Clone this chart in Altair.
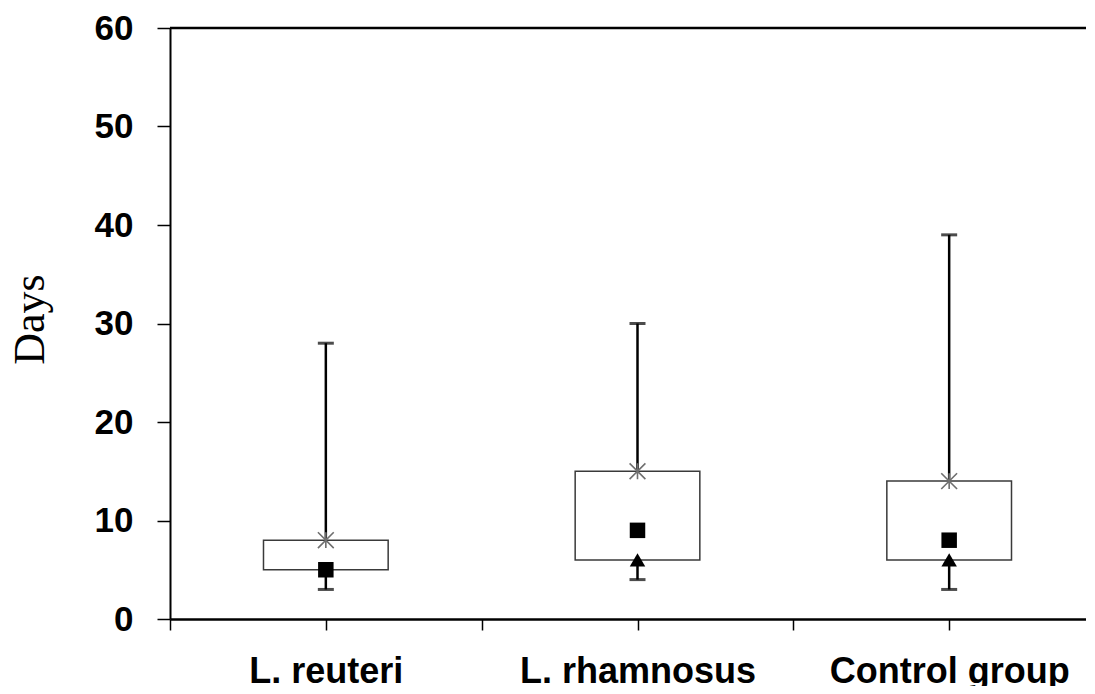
import altair as alt
import pandas as pd

groups = ["L. reuteri", "L. rhamnosus", "Control group"]
whisker_min = [3, 4, 3]
box_low = [5, 6, 6]
box_high = [8, 15, 14]
whisker_max = [28, 30, 39]
star_vals = [8, 15, 14]
square_vals = [5, 9, 8]
triangle_vals = [None, 6, 6]
y_ticks = [0, 10, 20, 30, 40, 50, 60]

pos = [i + 0.5 for i in range(len(groups))]
half_box = 0.2

df = pd.DataFrame({
    "group": groups,
    "pos": pos,
    "left": [p - half_box for p in pos],
    "right": [p + half_box for p in pos],
    "wmin": whisker_min,
    "q1": box_low,
    "q3": box_high,
    "wmax": whisker_max,
    "star": star_vals,
    "square": square_vals,
    "triangle": triangle_vals,
})

PLOT_W = 916
FULL_W = 935  # the reference plot runs past the right edge of the picture
x_max = len(groups) * PLOT_W / FULL_W

x_vals = sorted(v for v in set([float(i) for i in range(len(groups) + 1)] + pos) if v <= x_max)
label_expr = "".join(
    f"datum.value == {p} ? '{g}' : " for p, g in zip(pos, groups)
) + "''"

xscale = alt.Scale(domain=[0, x_max], nice=False, zero=False)
yscale = alt.Scale(domain=[0, 60], nice=False)

x_axis = alt.Axis(
    values=x_vals, labelExpr=label_expr, title=None, grid=False,
    labelFont="Liberation Sans", labelFontWeight="bold", labelFontSize=36,
    labelColor="black", labelBaseline="alphabetic", labelPadding=52,
    labelOverlap=False, labelFlush=False, labelLimit=0, tickSize=11,
    tickColor="black", tickWidth=1.5, domainColor="black", domainWidth=2.5,
)
y_axis = alt.Axis(
    values=y_ticks, title="Days", grid=False,
    labelFont="Liberation Sans", labelFontWeight="bold", labelFontSize=35,
    labelColor="black", labelPadding=24, tickSize=13, tickColor="black",
    tickWidth=1.5, domainColor="black", domainWidth=2,
    titleFont="Liberation Serif", titleFontWeight="normal", titleFontSize=44,
    titleColor="black", titleAngle=-90, titleBaseline="alphabetic",
    titleAlign="center", titleX=-127, titleY=291,
)

base = alt.Chart(df)

x_enc = alt.X("pos:Q", scale=xscale, axis=x_axis)

upper = base.mark_rule(color="black", strokeWidth=2.5).encode(
    x=x_enc, y=alt.Y("q3:Q", scale=yscale, axis=y_axis), y2="wmax:Q"
)
lower = base.mark_rule(color="black", strokeWidth=2.5).encode(
    x="pos:Q", y="wmin:Q", y2="q1:Q"
)
top_border = alt.Chart(pd.DataFrame({"top": [y_ticks[-1]]})).mark_rule(
    color="black", strokeWidth=2.5
).encode(x=alt.value(0), x2=alt.value(PLOT_W + 20), y="top:Q")
box = base.mark_rect(fill="white", stroke="#3a3a3a", strokeWidth=1.5).encode(
    x="left:Q", x2="right:Q", y="q1:Q", y2="q3:Q"
)
cap_top = base.mark_tick(color="black", size=16, thickness=3, orient="horizontal").encode(
    x="pos:Q", y="wmax:Q"
)
cap_bot = base.mark_tick(color="black", size=16, thickness=3, orient="horizontal").encode(
    x="pos:Q", y="wmin:Q"
)
star = base.mark_point(
    shape="M-1,-1L1,1M-1,1L1,-1M0,-1L0,1", filled=False, stroke="#6f6f6f",
    strokeWidth=1.6, size=250, opacity=1
).encode(x="pos:Q", y="star:Q")
square = base.mark_point(
    shape="square", filled=True, color="black", size=240, opacity=1
).encode(x="pos:Q", y="square:Q")
triangle = base.transform_filter("isValid(datum.triangle)").mark_point(
    shape="triangle-up", filled=True, color="black", size=240, opacity=1
).encode(x="pos:Q", y="triangle:Q")

chart = alt.layer(
    upper, lower, top_border, box, cap_top, cap_bot, star, square, triangle
).properties(
    width=PLOT_W, height=591,
    padding={"left": 162, "top": 20, "right": 0, "bottom": 67},
    autosize=alt.AutoSizeParams(type="none"),
).configure_view(
    strokeWidth=0
).configure(background="white")

chart.save("out.html", embed_options={"renderer": "svg", "actions": False})
